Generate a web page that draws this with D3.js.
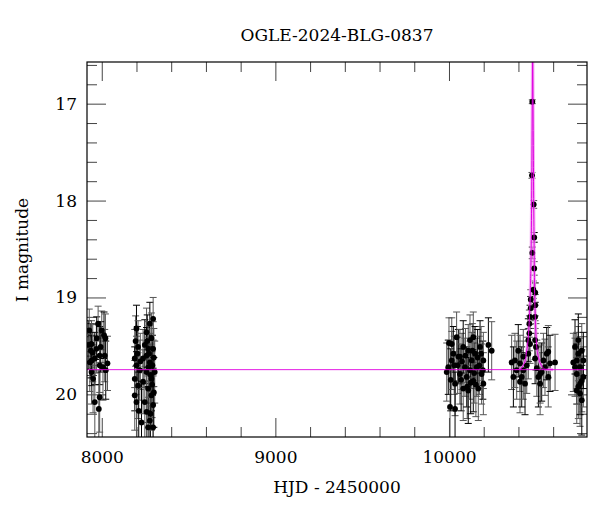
<!DOCTYPE html>
<html lang="en">
    <head>
        <meta charset="UTF-8">
        <title>OGLE-2024-BLG-0837</title>
        <script type="text/javascript" src="https://cdnjs.cloudflare.com/ajax/libs/d3/7.8.5/d3.min.js"></script>
        <style>
            body { margin: 0; background: #fff; }
            text { font-family: "DejaVu Serif", serif; fill: #000; }
        </style>
    </head>
    <body>
        <div id="chart"></div>
        <script type="text/javascript">
            // photometry per season: [HJD - 2450000, I mag, error]
            var season2017 = [
                [7922, 19.49, 0.25], [7928, 19.34, 0.22], [7931, 19.67, 0.30], [7937, 19.55, 0.28],
                [7941, 19.48, 0.24], [7941, 19.77, 0.33], [7942, 19.65, 0.26], [7948, 19.57, 0.30],
                [7950, 19.84, 0.35], [7960, 19.63, 0.27], [7960, 20.08, 0.38], [7969, 19.53, 0.25],
                [7971, 19.42, 0.22], [7979, 19.27, 0.18], [7983, 20.15, 0.40], [7988, 19.60, 0.30],
                [7988, 20.03, 0.36], [7988, 19.70, 0.28], [7994, 19.51, 0.26], [8000, 19.34, 0.20],
                [8007, 19.72, 0.34], [8013, 19.39, 0.24], [8017, 19.60, 0.27], [8021, 19.42, 0.25],
                [8023, 19.75, 0.30], [8033, 19.68, 0.28]
            ];
            var season2018 = [
                [8190, 19.63, 0.30], [8190, 19.84, 0.33], [8190, 20.01, 0.36], [8195, 19.45, 0.26],
                [8200, 19.32, 0.24], [8200, 19.70, 0.30], [8200, 20.08, 0.38], [8205, 19.58, 0.28],
                [8209, 19.51, 0.27], [8209, 19.91, 0.34], [8213, 20.17, 0.40], [8219, 19.75, 0.31],
                [8222, 19.66, 0.29], [8229, 20.29, 0.42], [8238, 19.63, 0.30], [8238, 19.87, 0.33],
                [8248, 19.49, 0.26], [8248, 20.08, 0.37], [8258, 19.36, 0.25], [8258, 19.60, 0.29],
                [8258, 19.77, 0.32], [8258, 20.18, 0.40], [8262, 19.45, 0.27], [8267, 19.53, 0.28],
                [8267, 19.94, 0.35], [8267, 20.34, 0.42], [8270, 19.72, 0.31], [8272, 19.58, 0.29],
                [8277, 19.27, 0.22], [8277, 19.67, 0.30], [8277, 20.27, 0.41], [8280, 20.20, 0.40],
                [8282, 19.80, 0.32], [8286, 19.42, 0.26], [8286, 19.84, 0.33], [8286, 20.01, 0.36],
                [8290, 19.90, 0.34], [8292, 19.70, 0.31], [8296, 19.22, 0.22], [8296, 19.53, 0.28],
                [8296, 20.11, 0.38], [8296, 20.34, 0.42], [8300, 19.62, 0.30], [8300, 19.98, 0.36],
                [8305, 19.77, 0.32]
            ];
            var season2023 = [
                [9987, 19.77, 0.30], [9996, 19.72, 0.28], [10000, 19.47, 0.26], [10006, 20.13, 0.40],
                [10010, 19.85, 0.32], [10016, 19.48, 0.27], [10016, 19.65, 0.30], [10025, 19.58, 0.28],
                [10030, 19.70, 0.30], [10035, 19.89, 0.33], [10035, 20.15, 0.38], [10044, 19.41, 0.26],
                [10050, 19.70, 0.29], [10054, 19.61, 0.28], [10063, 19.79, 0.31], [10063, 19.61, 0.28],
                [10070, 19.85, 0.32], [10075, 19.66, 0.29], [10082, 19.94, 0.33], [10082, 19.51, 0.27],
                [10092, 19.72, 0.30], [10095, 19.60, 0.28], [10102, 19.82, 0.31], [10105, 19.92, 0.33],
                [10111, 19.55, 0.27], [10111, 19.96, 0.34], [10121, 19.44, 0.26], [10121, 19.75, 0.30],
                [10125, 19.88, 0.32], [10131, 19.65, 0.29], [10135, 19.55, 0.28], [10140, 19.86, 0.32],
                [10140, 19.41, 0.26], [10145, 19.78, 0.31], [10150, 19.58, 0.28], [10155, 19.90, 0.33],
                [10160, 19.72, 0.30], [10165, 19.62, 0.29], [10169, 19.94, 0.33], [10175, 19.70, 0.30],
                [10179, 19.51, 0.27], [10185, 19.58, 0.28], [10188, 19.79, 0.31], [10195, 19.75, 0.30],
                [10198, 19.65, 0.29], [10198, 19.89, 0.32], [10227, 19.49, 0.28], [10246, 19.55, 0.30]
            ];
            var season2024 = [
                [10361, 19.67, 0.28], [10371, 19.82, 0.31], [10380, 19.65, 0.28], [10390, 19.75, 0.30],
                [10399, 19.55, 0.27], [10409, 19.68, 0.29], [10409, 19.87, 0.32], [10419, 19.82, 0.31],
                [10428, 19.61, 0.28], [10428, 19.75, 0.30], [10438, 19.89, 0.32], [10448, 19.70, 0.29],
                [10457, 19.58, 0.26], [10457, 19.44, 0.22], [10463, 19.37, 0.18], [10463, 19.27, 0.14],
                [10467, 19.20, 0.12], [10467, 19.48, 0.20], [10471, 19.02, 0.10], [10471, 19.11, 0.12],
                [10478, 17.74, 0.03], [10480, 16.98, 0.02], [10480, 18.54, 0.06], [10486, 18.92, 0.09],
                [10488, 18.04, 0.04], [10491, 18.38, 0.05], [10491, 18.70, 0.07], [10496, 19.20, 0.12],
                [10497, 18.95, 0.10], [10497, 19.08, 0.11], [10496, 19.44, 0.20], [10496, 19.63, 0.26],
                [10501, 19.51, 0.24], [10506, 19.73, 0.29], [10515, 19.82, 0.31], [10525, 19.89, 0.32],
                [10525, 19.79, 0.30], [10534, 19.77, 0.30], [10544, 19.65, 0.28], [10553, 19.72, 0.29],
                [10563, 19.58, 0.27], [10572, 19.56, 0.27], [10572, 19.82, 0.31], [10582, 19.68, 0.29],
                [10611, 19.67, 0.29]
            ];
            var season2025 = [
                [10716, 19.67, 0.30], [10726, 19.51, 0.28], [10726, 19.72, 0.30], [10736, 19.65, 0.29],
                [10736, 19.79, 0.31], [10736, 19.96, 0.34], [10745, 19.58, 0.28], [10745, 19.44, 0.27],
                [10745, 19.92, 0.33], [10755, 19.72, 0.30], [10755, 19.89, 0.32], [10755, 19.99, 0.34],
                [10765, 19.86, 0.32], [10765, 20.06, 0.36], [10765, 19.55, 0.28], [10774, 19.82, 0.31],
                [10774, 19.65, 0.29]
            ];

            // microlensing model: [HJD - 2450000, I mag]
            var modelCurve = [
                [10380, 19.745], [10410, 19.74], [10428, 19.70], [10440, 19.64], [10448, 19.55],
                [10455, 19.45], [10463, 19.22], [10469, 18.90], [10474, 18.40], [10477, 17.80],
                [10479, 17.20], [10481, 16.60], [10482, 16.30], [10483, 16.60], [10485, 17.20],
                [10487, 17.80], [10490, 18.40], [10493, 18.90], [10497, 19.20], [10503, 19.45],
                [10510, 19.57], [10520, 19.65], [10535, 19.71], [10555, 19.74], [10600, 19.745]
            ];
            var baselineMag = 19.745;

            var xDomain = [7915, 10795];
            var yDomain = [16.57, 20.44];
            var xMajor = [8000, 9000, 10000];
            var xMinor = [8200, 8400, 8600, 8800, 9200, 9400, 9600, 9800, 10200, 10400, 10600];
            var yMajor = [17, 18, 19, 20];
            var yMinor = [16.6, 16.8, 17.2, 17.4, 17.6, 17.8, 18.2, 18.4, 18.6, 18.8,
                          19.2, 19.4, 19.6, 19.8, 20.2, 20.4];

            var W = 600, H = 512;
            var plotLeft = 87, plotRight = 587, plotTop = 62, plotBottom = 437;

            var svg = d3.select('#chart').append('svg')
                .attr('width', W)
                .attr('height', H);

            var x = d3.scaleLinear().domain(xDomain).range([plotLeft, plotRight]);
            var y = d3.scaleLinear().domain(yDomain).range([plotTop, plotBottom]);

            svg.append('clipPath').attr('id', 'plotClip')
                .append('rect')
                .attr('x', plotLeft).attr('y', plotTop)
                .attr('width', plotRight - plotLeft).attr('height', plotBottom - plotTop);

            // ticks pointing inwards on all four sides
            var drawTicks = function (gen, transform, vals, len, showLabels, pad) {
                var g = svg.append('g')
                    .attr('transform', transform)
                    .call(gen.tickValues(vals).tickSize(-len).tickPadding(pad || 3)
                        .tickFormat(showLabels ? d3.format('d') : ''));
                g.select('.domain').remove();
                g.selectAll('.tick line').attr('stroke', '#444');
                g.selectAll('.tick text').attr('font-size', 17).attr('font-family', '"DejaVu Serif", serif');
                return g;
            };

            drawTicks(d3.axisBottom(x), 'translate(0,' + plotBottom + ')', xMajor, 19, true, 14);
            drawTicks(d3.axisBottom(x), 'translate(0,' + plotBottom + ')', xMinor, 10, false);
            drawTicks(d3.axisTop(x), 'translate(0,' + plotTop + ')', xMajor, 19, false);
            drawTicks(d3.axisTop(x), 'translate(0,' + plotTop + ')', xMinor, 10, false);
            drawTicks(d3.axisLeft(y), 'translate(' + plotLeft + ',0)', yMajor, 19, true, 10);
            drawTicks(d3.axisLeft(y), 'translate(' + plotLeft + ',0)', yMinor, 10, false);
            drawTicks(d3.axisRight(y), 'translate(' + plotRight + ',0)', yMajor, 19, false);
            drawTicks(d3.axisRight(y), 'translate(' + plotRight + ',0)', yMinor, 10, false);

            var plot = svg.append('g').attr('clip-path', 'url(#plotClip)');

            var points = [].concat(season2017, season2018, season2023, season2024, season2025);

            var line = d3.line()
                .x(function (d) { return x(d[0]); })
                .y(function (d) { return y(d[1]); })
                .curve(d3.curveMonotoneX);

            // error bars
            var barColor = function (d, i) { return i % 3 === 0 ? '#000' : '#555'; };
            var bars = plot.append('g').selectAll('g').data(points).join('g')
                .attr('stroke', barColor)
                .attr('stroke-width', 1);
            bars.append('line')
                .attr('x1', function (d) { return x(d[0]); })
                .attr('x2', function (d) { return x(d[0]); })
                .attr('y1', function (d) { return y(d[1] - d[2]); })
                .attr('y2', function (d) { return y(d[1] + d[2]); });
            [-1, 1].forEach(function (s) {
                bars.append('line')
                    .attr('x1', function (d) { return x(d[0]) - 3.5; })
                    .attr('x2', function (d) { return x(d[0]) + 3.5; })
                    .attr('y1', function (d) { return y(d[1] + s * d[2]); })
                    .attr('y2', function (d) { return y(d[1] + s * d[2]); });
            });

            // soft model band under the points
            plot.append('path')
                .datum(modelCurve)
                .attr('d', line)
                .attr('fill', 'none')
                .attr('stroke', '#f4a0f4')
                .attr('stroke-opacity', 0.8)
                .attr('stroke-width', 3.2);

            // points
            plot.append('g').selectAll('circle').data(points).join('circle')
                .attr('cx', function (d) { return x(d[0]); })
                .attr('cy', function (d) { return y(d[1]); })
                .attr('r', 2.9)
                .attr('fill', '#000');

            // baseline and model line on top
            plot.append('line')
                .attr('x1', x(xDomain[0])).attr('x2', x(xDomain[1]))
                .attr('y1', y(baselineMag)).attr('y2', y(baselineMag))
                .attr('stroke', '#e000e0')
                .attr('stroke-width', 0.9);
            plot.append('path')
                .datum(modelCurve)
                .attr('d', line)
                .attr('fill', 'none')
                .attr('stroke', '#e000e0')
                .attr('stroke-width', 1);

            // frame
            svg.append('rect')
                .attr('x', plotLeft).attr('y', plotTop)
                .attr('width', plotRight - plotLeft).attr('height', plotBottom - plotTop)
                .attr('fill', 'none')
                .attr('stroke', '#000')
                .attr('stroke-width', 1.2);

            // title and labels
            svg.append('text')
                .attr('x', (plotLeft + plotRight) / 2).attr('y', 41)
                .attr('text-anchor', 'middle')
                .attr('font-size', 17)
                .text('OGLE-2024-BLG-0837');
            svg.append('text')
                .attr('x', (plotLeft + plotRight) / 2).attr('y', 493)
                .attr('text-anchor', 'middle')
                .attr('font-size', 17)
                .text('HJD - 2450000');
            svg.append('text')
                .attr('transform', 'translate(28,250) rotate(-90)')
                .attr('text-anchor', 'middle')
                .attr('font-size', 17)
                .text('I magnitude');
        </script>
    </body>
</html>
